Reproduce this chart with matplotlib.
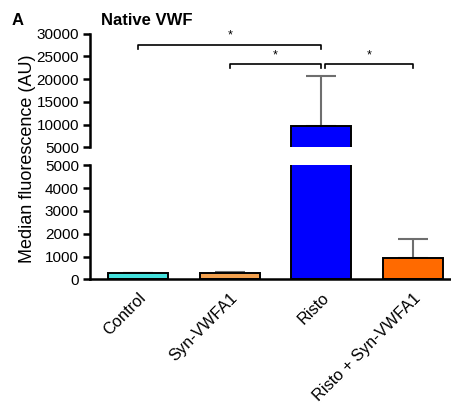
import matplotlib.pyplot as plt

plt.rcParams["font.family"] = ["Liberation Sans", "DejaVu Sans"]

# Data
groups = ["Control", "Syn-VWFA1", "Risto", "Risto + Syn-VWFA1"]
medians = [260, 265, 9700, 930]
errors = [25, 70, 10900, 820]
colors = ["#45E0DC", "#F2A04E", "#0000FF", "#FF6A00"]

# significance brackets: (left group, right group, height, label)
brackets = [(0, 2, 27500, "*"), (1, 2, 23300, "*"), (2, 3, 23300, "*")]

x = list(range(len(groups)))
W, H = 452, 416
fig = plt.figure(figsize=(W / 100, H / 100), dpi=100)

# pixel layout of the two axis segments
left_px, right_px = 90, 450
x0_px, step_px = 138, 91.7
xlim = ((left_px - x0_px) / step_px, (right_px - x0_px) / step_px)

ax_top = fig.add_axes([left_px / W, (H - 147.3) / H, (right_px - left_px) / W, 113.6 / H])
ax_bot = fig.add_axes([left_px / W, (H - 279.3) / H, (right_px - left_px) / W, 114 / H])

for ax in (ax_top, ax_bot):
    ax.bar(x, medians, width=0.655, color=colors, edgecolor="black", linewidth=1.4, zorder=2)
    ax.errorbar(x, medians, yerr=[[0] * len(x), errors], fmt="none", ecolor="#6E6E6E",
                elinewidth=1.5, capsize=10.5, capthick=1.5, zorder=1)
    ax.set_xlim(*xlim)
    for s in ("top", "right"):
        ax.spines[s].set_visible(False)
    ax.spines["left"].set_linewidth(1.8)
    ax.tick_params(axis="y", length=5, width=1.8, labelsize=11, pad=3)

ax_top.set_ylim(5000, 30000)
ax_top.set_yticks(range(5000, 30001, 5000))
ax_top.spines["bottom"].set_visible(False)
ax_top.set_xticks([])

ax_bot.set_ylim(0, 5000)
ax_bot.set_yticks(range(0, 5001, 1000))
ax_bot.spines["bottom"].set_linewidth(1.8)
ax_bot.set_xticks(x)
ax_bot.set_xticklabels(groups, rotation=45, ha="right", rotation_mode="anchor", fontsize=11.8)
ax_bot.tick_params(axis="x", length=0, pad=8)

# significance brackets
tick_h = 800
for a, b, yb, lab in brackets:
    xa = a + 0.035 if a == 2 else a
    xb = b
    ax_top.plot([xa, xa, xb, xb], [yb - tick_h, yb, yb, yb - tick_h], color="black",
                linewidth=1.2, clip_on=False)
    ax_top.text((xa + xb) / 2, yb + 700, lab, ha="center", va="bottom", fontsize=9)

fig.text(12 / W, (H - 25) / H, "A", fontsize=12, fontweight="bold", va="baseline")
fig.text(101 / W, (H - 25) / H, "Native VWF", fontsize=12, fontweight="bold", va="baseline")
fig.text(28 / W, (H - 159) / H, "Median fluorescence (AU)", rotation=90, fontsize=13,
         ha="center", va="center")

fig.savefig("out.png", dpi=100)
